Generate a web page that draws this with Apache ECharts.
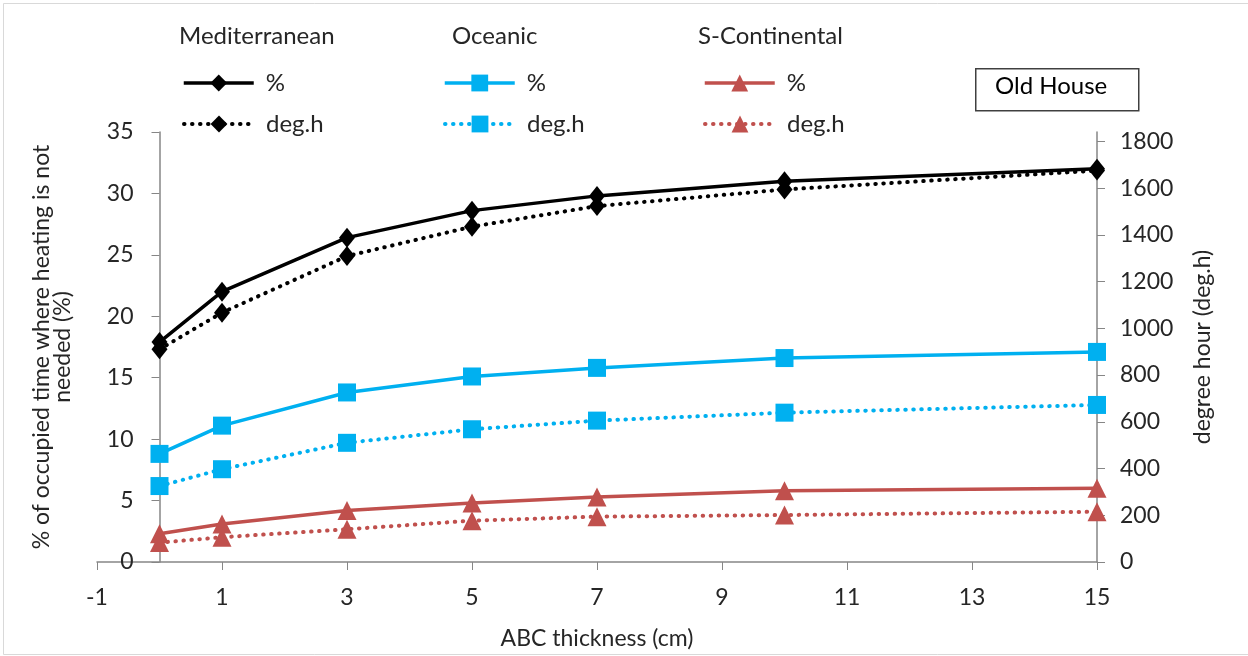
<!DOCTYPE html>
<html>
<head>
<meta charset="utf-8">
<script src="https://cdn.jsdelivr.net/npm/echarts@6/dist/echarts.min.js"></script>
<style>
html,body{margin:0;padding:0;background:#fff;}
#chart{width:1248px;height:656px;}
</style>
</head>
<body>
<div id="chart"></div>
<script>
// ---- data ----
var thickness = [0, 1, 3, 5, 7, 10, 15];
var medPct = [17.9, 22.0, 26.4, 28.6, 29.8, 31.0, 32.0];
var medDeg = [910, 1067, 1309, 1435, 1523, 1594, 1675];
var ocePct = [8.8, 11.1, 13.8, 15.1, 15.8, 16.6, 17.1];
var oceDeg = [325, 397, 510, 568, 605, 639, 672];
var scPct = [2.3, 3.1, 4.2, 4.8, 5.3, 5.8, 6.0];
var scDeg = [83, 106, 140, 177, 194, 201, 215];
var xTicks = [-1, 1, 3, 5, 7, 9, 11, 13, 15];
var rightTicks = [0, 200, 400, 600, 800, 1000, 1200, 1400, 1600, 1800];
var climates = ['Mediterranean', 'Oceanic', 'S-Continental'];

function pairs(vals) { return thickness.map(function (x, i) { return [x, vals[i]]; }); }

var FONT = 'Lato';
var TXT = '#262626';
var AX = '#868686';
var cBlack = '#000000', cBlue = '#00B0F0', cRed = '#C0504D';
var dotted = [0.5, 7.5];

function mkSeries(name, vals, yIdx, color, symbol, size, dashed) {
  return {
    name: name, type: 'line', yAxisIndex: yIdx, data: pairs(vals),
    symbol: symbol, symbolSize: size,
    itemStyle: { color: color },
    lineStyle: { color: color, width: dashed ? 4 : 3.5, type: dashed ? dotted : 'solid', cap: dashed ? 'round' : 'butt' },
    z: 3
  };
}

var series = [
  mkSeries('Mediterranean|%', medPct, 0, cBlack, 'diamond', [16, 20], false),
  mkSeries('Mediterranean|deg.h', medDeg, 1, cBlack, 'diamond', [16, 20], true),
  mkSeries('Oceanic|%', ocePct, 0, cBlue, 'rect', 18, false),
  mkSeries('Oceanic|deg.h', oceDeg, 1, cBlue, 'rect', 18, true),
  mkSeries('S-Continental|%', scPct, 0, cRed, 'triangle', 19, false),
  mkSeries('S-Continental|deg.h', scDeg, 1, cRed, 'triangle', 19, true)
];

var legendLefts = [182, 443, 703];
var legends = [];
climates.forEach(function (c, i) {
  [['%', 71, 3.5], ['deg.h', 112, 4]].forEach(function (p) {
    legends.push({
      data: [c + '|' + p[0]], left: legendLefts[i], top: p[1],
      padding: 0, itemWidth: 70, itemHeight: 21,
      selectedMode: false,
      lineStyle: { width: p[2] },
      formatter: function (n) { return n.split('|')[1]; },
      textStyle: { fontFamily: FONT, fontSize: 24, color: TXT, padding: [0, 0, 0, 7] }
    });
  });
});

var headerLefts = [179, 452, 698];
var graphics = [
  { type: 'rect', left: 1, top: 1, shape: { width: 1245, height: 651 }, style: { fill: 'none', stroke: '#d9d9d9', lineWidth: 1 }, silent: true },
  { type: 'rect', left: 975, top: 68, shape: { width: 163, height: 42 }, style: { fill: '#fff', stroke: '#404040', lineWidth: 1.5 } },
  { type: 'text', left: 995, top: 74, style: { text: 'Old House', fontFamily: FONT, fontSize: 24, fill: '#000' } }
];
climates.forEach(function (c, i) {
  graphics.push({ type: 'text', left: headerLefts[i], top: 24, style: { text: c, fontFamily: FONT, fontSize: 24, fill: TXT } });
});

function plain(v) { return String(v); }

var option = {
  animation: false,
  backgroundColor: '#ffffff',
  grid: { left: 97, top: 132, width: 1000, height: 430, containLabel: false, outerBoundsMode: 'none' },
  legend: legends,
  graphic: graphics,
  xAxis: {
    type: 'value', min: -1, max: 15,
    name: 'ABC thickness (cm)', nameLocation: 'middle', nameGap: 65,
    nameTextStyle: { fontFamily: FONT, fontSize: 23, color: TXT },
    axisLine: { show: true, lineStyle: { color: AX, width: 1.5 } },
    axisTick: { show: true, length: 8, customValues: xTicks, lineStyle: { color: AX } },
    axisLabel: { customValues: xTicks, margin: 24, fontFamily: FONT, fontSize: 23, color: TXT, formatter: plain },
    splitLine: { show: false }
  },
  yAxis: [
    {
      type: 'value', min: 0, max: 35, interval: 5, position: 'left', offset: -62.5,
      name: '% of occupied time where heating is not\nneeded (%)',
      nameLocation: 'middle', nameGap: 86, nameRotate: 90, nameMoveOverlap: false,
      nameTextStyle: { fontFamily: FONT, fontSize: 23, color: TXT, lineHeight: 21 },
      axisLine: { show: true, onZero: false, lineStyle: { color: AX, width: 1.5 } },
      axisTick: { show: true, length: 8, lineStyle: { color: AX } },
      axisLabel: { margin: 26, fontFamily: FONT, fontSize: 23, color: TXT, formatter: plain },
      splitLine: { show: false }
    },
    {
      type: 'value', min: 0, max: 1840, position: 'right',
      name: 'degree hour (deg.h)',
      nameLocation: 'middle', nameGap: 93, nameRotate: 90,
      nameTextStyle: { fontFamily: FONT, fontSize: 23, color: TXT, lineHeight: 26 },
      axisLine: { show: true, onZero: false, lineStyle: { color: AX, width: 1.5 } },
      axisTick: { show: true, length: 8, customValues: rightTicks, lineStyle: { color: AX } },
      axisLabel: { customValues: rightTicks, margin: 23, fontFamily: FONT, fontSize: 23, color: TXT, formatter: plain },
      splitLine: { show: false }
    }
  ],
  series: series
};

var chart = echarts.init(document.getElementById('chart'), null, { renderer: 'canvas' });
chart.setOption(option);
</script>
</body>
</html>
